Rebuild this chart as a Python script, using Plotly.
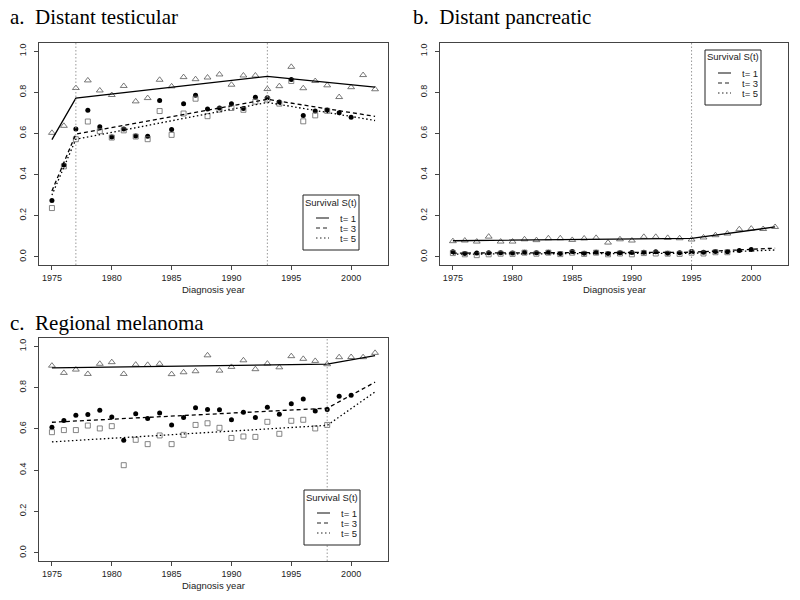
import plotly.graph_objects as go

# ---------------- data ----------------
years = list(range(1975, 2003))
years_t3 = list(range(1975, 2001))
years_t5 = list(range(1975, 1999))

# Panel a: Distant testicular (observed)
a_t1_obs = [0.603, 0.637, 0.821, 0.858, 0.809, 0.787, 0.831, 0.756, 0.772, 0.861,
            0.829, 0.874, 0.864, 0.872, 0.887, 0.837, 0.882, 0.882, 0.816, 0.830,
            0.924, 0.820, 0.855, 0.834, 0.777, 0.825, 0.884, 0.815]
a_t3_obs = [0.274, 0.447, 0.622, 0.713, 0.632, 0.583, 0.622, 0.588, 0.586, 0.760,
            0.619, 0.745, 0.786, 0.719, 0.724, 0.745, 0.721, 0.776, 0.774, 0.753,
            0.863, 0.687, 0.709, 0.714, 0.701, 0.679]
a_t5_obs = [0.237, 0.440, 0.572, 0.658, 0.611, 0.580, 0.615, 0.585, 0.572, 0.709,
            0.593, 0.697, 0.769, 0.684, 0.716, 0.724, 0.715, 0.755, 0.765, 0.745,
            0.855, 0.659, 0.688, 0.710]
a_fit_years = [1975, 1977, 1993, 2002]
a_t1_fit = [0.570, 0.772, 0.878, 0.825]
a_t3_fit = [0.320, 0.597, 0.766, 0.683]
a_t5_fit = [0.300, 0.572, 0.751, 0.663]
a_joinpoints = [1977, 1993]

# Panel b: Distant pancreatic
b_t1_obs = [0.076, 0.079, 0.074, 0.098, 0.074, 0.074, 0.085, 0.081, 0.090, 0.090,
            0.082, 0.089, 0.092, 0.069, 0.085, 0.079, 0.097, 0.097, 0.092, 0.090,
            0.084, 0.094, 0.105, 0.113, 0.134, 0.137, 0.135, 0.145]
b_t3_obs = [0.024, 0.016, 0.018, 0.020, 0.020, 0.018, 0.022, 0.019, 0.022, 0.016,
            0.026, 0.017, 0.022, 0.016, 0.020, 0.021, 0.022, 0.025, 0.017, 0.020,
            0.026, 0.022, 0.026, 0.025, 0.030, 0.036]
b_t5_obs = [0.018, 0.012, 0.008, 0.012, 0.015, 0.014, 0.020, 0.015, 0.020, 0.013,
            0.020, 0.014, 0.020, 0.012, 0.016, 0.012, 0.018, 0.016, 0.015, 0.014,
            0.020, 0.016, 0.022, 0.022]
b_fit_years = [1975, 1995, 2002]
b_t1_fit = [0.078, 0.090, 0.145]
b_t3_fit = [0.018, 0.022, 0.042]
b_t5_fit = [0.013, 0.017, 0.033]
b_joinpoints = [1995]

# Panel c: Regional melanoma
c_t1_obs = [0.906, 0.871, 0.887, 0.866, 0.915, 0.923, 0.866, 0.911, 0.910, 0.915,
            0.865, 0.874, 0.879, 0.956, 0.882, 0.900, 0.932, 0.889, 0.916, 0.898,
            0.952, 0.939, 0.929, 0.913, 0.947, 0.948, 0.947, 0.968]
c_t3_obs = [0.608, 0.640, 0.666, 0.669, 0.690, 0.658, 0.545, 0.673, 0.650, 0.677,
            0.619, 0.655, 0.702, 0.694, 0.692, 0.644, 0.681, 0.655, 0.705, 0.671,
            0.721, 0.745, 0.687, 0.694, 0.758, 0.763]
c_t5_obs = [0.584, 0.594, 0.594, 0.616, 0.602, 0.613, 0.424, 0.547, 0.526, 0.568,
            0.526, 0.571, 0.619, 0.627, 0.605, 0.556, 0.563, 0.561, 0.634, 0.576,
            0.639, 0.644, 0.602, 0.619]
c_fit_years = [1975, 1998, 2002]
c_t1_fit = [0.895, 0.913, 0.955]
c_t3_fit = [0.632, 0.700, 0.826]
c_t5_fit = [0.537, 0.617, 0.779]
c_joinpoints = [1998]

panel_titles = ["a. Distant testicular", "b. Distant pancreatic", "c. Regional melanoma"]
legend_title = "Survival S(t)"
legend_labels = ["t= 1", "t= 3", "t= 5"]
x_ticks = [1975, 1980, 1985, 1990, 1995, 2000]
y_ticks = [0.0, 0.2, 0.4, 0.6, 0.8, 1.0]

# ---------------- figure ----------------
W, H = 800, 600
SANS = "Liberation Sans, Arial, sans-serif"
SERIF = "Liberation Serif, Times New Roman, serif"
INK = "#222222"

def px_x(p):
    return p / W

def px_y(p):
    return 1 - p / H

panels = [
    dict(ax="", title=panel_titles[0], obs=(a_t1_obs, a_t3_obs, a_t5_obs),
         fy=a_fit_years, fit=(a_t1_fit, a_t3_fit, a_t5_fit), jp=a_joinpoints,
         xd=[px_x(39), px_x(388)], yd=[px_y(265), px_y(43)],
         leg_xy=(303, 195), title_xy=(8, 17), xt_y=289),
    dict(ax="2", title=panel_titles[1], obs=(b_t1_obs, b_t3_obs, b_t5_obs),
         fy=b_fit_years, fit=(b_t1_fit, b_t3_fit, b_t5_fit), jp=b_joinpoints,
         xd=[px_x(440), px_x(788)], yd=[px_y(265), px_y(43)],
         leg_xy=(705, 50), title_xy=(411, 17), xt_y=289),
    dict(ax="3", title=panel_titles[2], obs=(c_t1_obs, c_t3_obs, c_t5_obs),
         fy=c_fit_years, fit=(c_t1_fit, c_t3_fit, c_t5_fit), jp=c_joinpoints,
         xd=[px_x(39), px_x(388)], yd=[px_y(561), px_y(338)],
         leg_xy=(304, 490), title_xy=(8, 323), xt_y=585),
]

fig = go.Figure()
layout = dict(
    width=W, height=H, margin=dict(l=0, r=0, t=0, b=0),
    paper_bgcolor="white", plot_bgcolor="white",
    showlegend=False, shapes=[], annotations=[],
)

obs_years = [years, years_t3, years_t5]
markers = [
    dict(symbol="triangle-up-open", size=6, color="#555555", line=dict(width=0.8, color="#555555")),
    dict(symbol="circle", size=5, color="black"),
    dict(symbol="square-open", size=5, color="#666666", line=dict(width=0.8, color="#666666")),
]
dashes = ["solid", "4px,3px", "1.5px,2.5px"]

for p in panels:
    xa = "x" + p["ax"]
    ya = "y" + p["ax"]
    for k in range(3):
        fig.add_trace(go.Scatter(
            x=obs_years[k], y=p["obs"][k], mode="markers", marker=markers[k],
            xaxis=xa, yaxis=ya, hoverinfo="skip"))
    for k in range(3):
        fig.add_trace(go.Scatter(
            x=p["fy"], y=p["fit"][k], mode="lines",
            line=dict(color="black", width=1.3, dash=dashes[k]),
            name=legend_labels[k], xaxis=xa, yaxis=ya))
    axis_common = dict(showline=True, mirror=True, linecolor="#444444", linewidth=1,
                       ticks="outside", ticklen=4, tickcolor="#444444", tickwidth=1,
                       showgrid=False, zeroline=False,
                       tickfont=dict(family=SANS, size=9, color=INK))
    layout["xaxis" + p["ax"]] = dict(axis_common, domain=p["xd"], anchor=ya,
                                     range=[1973.92, 2003.08], tickvals=x_ticks)
    layout["yaxis" + p["ax"]] = dict(axis_common, domain=p["yd"], anchor=xa,
                                     range=[-0.04, 1.04], tickvals=y_ticks,
                                     ticktext=["%.1f" % v for v in y_ticks],
                                     tickangle=-90, ticklabelstandoff=4)
    for j in p["jp"]:
        layout["shapes"].append(dict(type="line", xref=xa, yref=ya + " domain",
                                     x0=j, x1=j, y0=0, y1=1,
                                     line=dict(color="#999999", width=1, dash="1.5px,2px")))
    # legend box (drawn in paper space)
    lx, ly = p["leg_xy"]
    lw, lh = 56, 55
    layout["shapes"].append(dict(type="rect", xref="paper", yref="paper",
                                 x0=px_x(lx), x1=px_x(lx + lw), y0=px_y(ly + lh), y1=px_y(ly),
                                 line=dict(color=INK, width=1), fillcolor="white"))
    layout["annotations"].append(dict(
        text=legend_title, x=px_x(lx + lw / 2), y=px_y(ly + 7), xref="paper", yref="paper",
        xanchor="center", yanchor="middle", showarrow=False,
        font=dict(family=SANS, size=9.5, color=INK)))
    for k in range(3):
        ey = ly + 23 + 10 * k
        layout["shapes"].append(dict(type="line", xref="paper", yref="paper",
                                     x0=px_x(lx + 13), x1=px_x(lx + 26),
                                     y0=px_y(ey), y1=px_y(ey),
                                     line=dict(color=INK, width=1.1, dash=dashes[k])))
        layout["annotations"].append(dict(
            text=legend_labels[k], x=px_x(lx + 35), y=px_y(ey), xref="paper", yref="paper",
            xanchor="left", yanchor="middle", showarrow=False, height=10,
            font=dict(family=SANS, size=9.5, color=INK)))
    tx, ty = p["title_xy"]
    layout["annotations"].append(dict(
        text=p["title"].replace(". ", ".\u00a0 "), x=px_x(tx), y=px_y(ty),
        xref="paper", yref="paper", xanchor="left", yanchor="middle",
        showarrow=False, font=dict(family=SERIF, size=21, color="black")))
    layout["annotations"].append(dict(
        text="Diagnosis year", x=0.5, y=px_y(p["xt_y"]),
        xref=xa + " domain", yref="paper", xanchor="center", yanchor="middle",
        showarrow=False, font=dict(family=SANS, size=9.5, color=INK)))

fig.update_layout(**layout)
fig.write_html("out.html", config={"displayModeBar": False},
               post_script="document.body.style.margin='0';document.body.style.overflow='hidden';")
